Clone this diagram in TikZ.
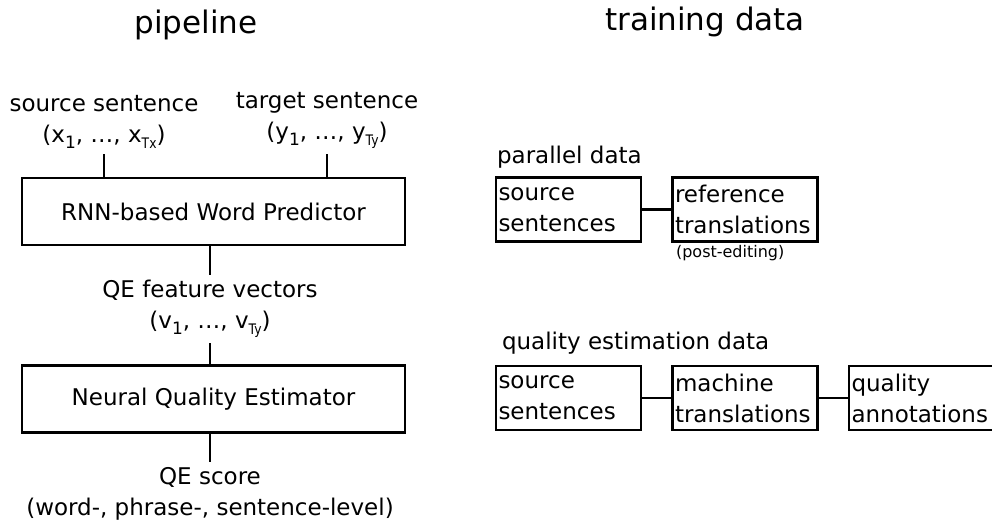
\documentclass[tikz,border=0pt]{standalone}
\usepackage{fontspec}
\setmainfont{DejaVu Sans}
\usepackage{tikz}
\usetikzlibrary{positioning}

\newcommand{\lowidx}[2][17]{\raisebox{-0.28em}{\fontsize{#1}{#1}\selectfont #2}}

\begin{document}
\begin{tikzpicture}[x=1pt, y=-1pt, line width=2.1pt,
    every node/.style={font=\fontsize{23}{31}\selectfont},
    title/.style={font=\fontsize{31}{36}\selectfont},
    label/.style={align=center, inner sep=4pt},
    stage/.style={draw, minimum width=383pt, minimum height=67pt},
    datum/.style={draw, minimum width=145pt, minimum height=64pt, text width=140pt,
      align=left, inner sep=2pt}]
    \useasboundingbox (0,0) rectangle (992,525);

    % pipeline
    \node[title] (pipe) at (196,25) {pipeline};
    \node[label, anchor=south] (src) at (104,154) {source sentence\\(x\lowidx{1}, \dots, x\lowidx[14.5]{\addfontfeature{FakeStretch=0.85}Tx})};
    \node[label, anchor=south] (tgt) at (327,154) {target sentence\\(y\lowidx{1}, \dots, y\lowidx[14.5]{\addfontfeature{FakeStretch=0.85}Ty})};
    \node[stage] (rnn) at (213.5,211.5) {RNN-based Word Predictor};
    \node[label, anchor=north] (feat) at (210,275) {QE feature vectors\\(v\lowidx{1}, \dots, v\lowidx[14.5]{\addfontfeature{FakeStretch=0.85}Ty})};
    \node[stage] (nqe) at (213.5,399) {Neural Quality Estimator};
    \node[label, anchor=north] (score) at (210,462) {QE score\\(word-, phrase-, sentence-level)};

    \draw (src) -- (src |- rnn.north);
    \draw (tgt) -- (tgt |- rnn.north);
    \draw (rnn.south -| feat) -- (feat);
    \draw (feat) -- (feat |- nqe.north);
    \draw (nqe.south -| score) -- (score);

    % training data
    \node[title] (train) at (705,22) {training data};

    \node[anchor=west, inner sep=0pt] (par) at (496,157) {parallel data};
    \node[datum] (psrc) at (568.5,209.5) {source\\sentences};
    \node[datum] (pref) at (745,209.5) {reference\\translations};
    \node[anchor=north west, inner sep=0pt, font=\fontsize{16}{18}\selectfont] (post) at (675,244) {(post-editing)};
    \draw (psrc) -- (pref);

    \node[anchor=west, inner sep=0pt] (qed) at (501,343) {quality estimation data};
    \node[datum] (qsrc) at (568.5,398) {source\\sentences};
    \node[datum] (qmt) at (745,398) {machine\\translations};
    \node[datum] (qann) at (921.5,398) {quality\\annotations};
    \draw (qsrc) -- (qmt);
    \draw (qmt) -- (qann);
\end{tikzpicture}
\end{document}
